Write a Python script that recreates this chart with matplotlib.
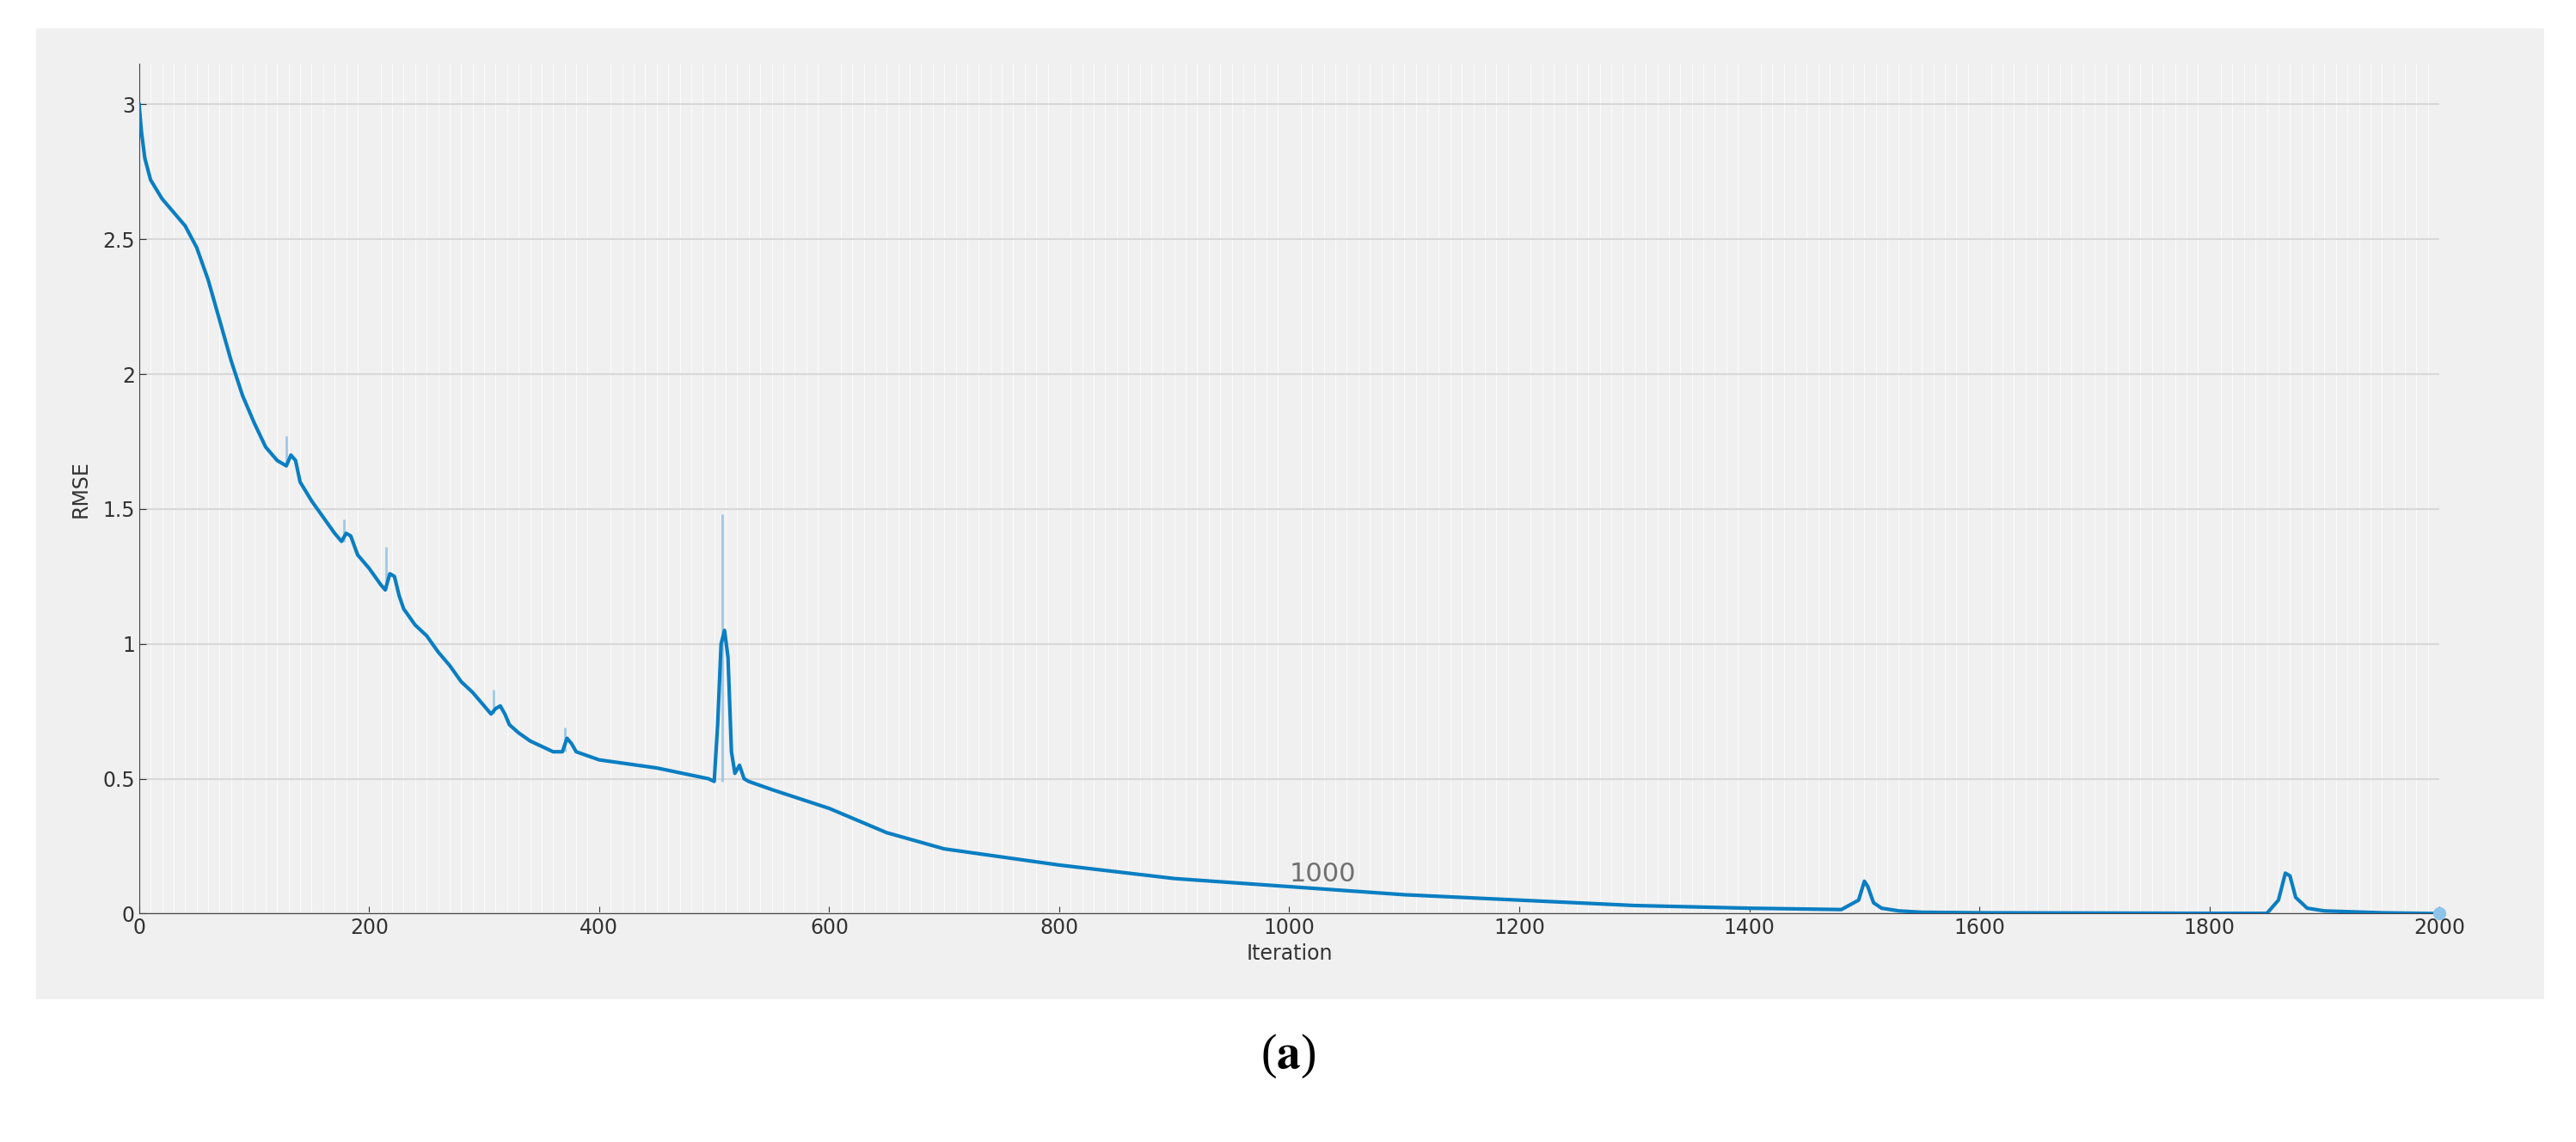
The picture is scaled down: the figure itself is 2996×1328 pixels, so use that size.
import matplotlib
matplotlib.use("Agg")
import matplotlib.pyplot as plt
from matplotlib.patches import Rectangle

smooth = [(0,3.0),(2,2.9),(5,2.8),(10,2.72),(20,2.65),(30,2.6),(40,2.55),(50,2.47),(60,2.35),(70,2.2),
          (80,2.05),(90,1.92),(100,1.82),(110,1.73),(120,1.68),(128,1.66),(132,1.7),(136,1.68),(140,1.6),
          (150,1.53),(160,1.47),(170,1.41),(176,1.38),(180,1.41),(184,1.4),(190,1.33),(200,1.28),(210,1.22),
          (214,1.2),(218,1.26),(222,1.25),(226,1.18),(230,1.13),(240,1.07),(250,1.03),(260,0.97),(270,0.92),
          (280,0.86),(290,0.82),(300,0.77),(306,0.74),(310,0.76),(314,0.77),(318,0.74),(322,0.7),(330,0.67),
          (340,0.64),(360,0.6),(368,0.6),(372,0.65),(376,0.63),(380,0.6),(400,0.57),(450,0.54),(495,0.5),
          (500,0.49),(503,0.7),(506,1.0),(509,1.05),(512,0.95),(515,0.6),(518,0.52),(522,0.55),(526,0.5),
          (530,0.49),(550,0.46),(600,0.39),(650,0.3),(700,0.24),(750,0.21),(800,0.18),(900,0.13),(1000,0.1),
          (1100,0.07),(1200,0.05),(1300,0.03),(1400,0.02),(1480,0.015),(1495,0.05),(1500,0.12),(1503,0.1),
          (1508,0.04),(1515,0.02),(1530,0.01),(1550,0.005),(1600,0.003),(1700,0.002),(1800,0.001),
          (1850,0.001),(1860,0.05),(1866,0.15),(1870,0.14),(1875,0.06),(1885,0.02),(1900,0.01),
          (1950,0.003),(2000,0.0)]
iterations = [p[0] for p in smooth]
rmse_smooth = [p[1] for p in smooth]

spike_iter = [128, 178, 215, 308, 370, 507]
spike_val = [1.77, 1.46, 1.36, 0.83, 0.69, 1.48]
spike_base = [1.66, 1.38, 1.2, 0.74, 0.6, 0.49]

yticks = [0, 0.5, 1, 1.5, 2, 2.5, 3]
xticks = [0, 200, 400, 600, 800, 1000, 1200, 1400, 1600, 1800, 2000]

fig = plt.figure(figsize=(29.96, 13.28), dpi=100)
fig.patch.set_facecolor("white")
fig.patches.append(Rectangle((0.014, 0.125), 0.9735, 0.85, transform=fig.transFigure,
                             facecolor="#f0f0f0", edgecolor="none", zorder=-10))
ax = fig.add_axes([0.054, 0.2, 0.893, 0.744])
ax.set_zorder(1)
ax.set_facecolor("#f0f0f0")
ax.set_xlim(0, 2000)
ax.set_ylim(0, 3.15)
ax.set_xticks(xticks)
ax.set_yticks(yticks)
ax.set_yticklabels(["0", "0.5", "1", "1.5", "2", "2.5", "3"])
ax.set_xticks(range(0, 2001, 10), minor=True)
ax.grid(which="minor", axis="x", color="white", lw=0.8, alpha=0.8)
ax.grid(which="major", axis="y", color="#d8d8d8", lw=1.5)
ax.tick_params(which="minor", length=0)
ax.tick_params(which="major", labelsize=17, colors="#333333", direction="in", length=6)
for s in ["top", "right"]:
    ax.spines[s].set_visible(False)
for s in ["left", "bottom"]:
    ax.spines[s].set_color("#444444")

for xi, v, b in zip(spike_iter, spike_val, spike_base):
    ax.vlines(xi, b, v, color="#9ec9e6", lw=2, zorder=2)
ax.plot(iterations, rmse_smooth, color="#0a7ec2", lw=3, zorder=3)
ax.plot([2000], [0], "o", color="#8fc3ea", ms=10, zorder=4, clip_on=False)
ax.text(1000, 0.1, "1000", fontsize=22, color="#707070", ha="left", va="bottom")

ax.set_xlabel("Iteration", fontsize=17, color="#333333", labelpad=4)
ax.set_ylabel("RMSE", fontsize=17, color="#333333", labelpad=10)

plt.rcParams["mathtext.fontset"] = "stix"
fig.text(0.5, 0.075, r"($\mathbf{a}$)", fontsize=40, ha="center", va="center",
         family="Liberation Serif")
fig.savefig("out.png", dpi=100)
